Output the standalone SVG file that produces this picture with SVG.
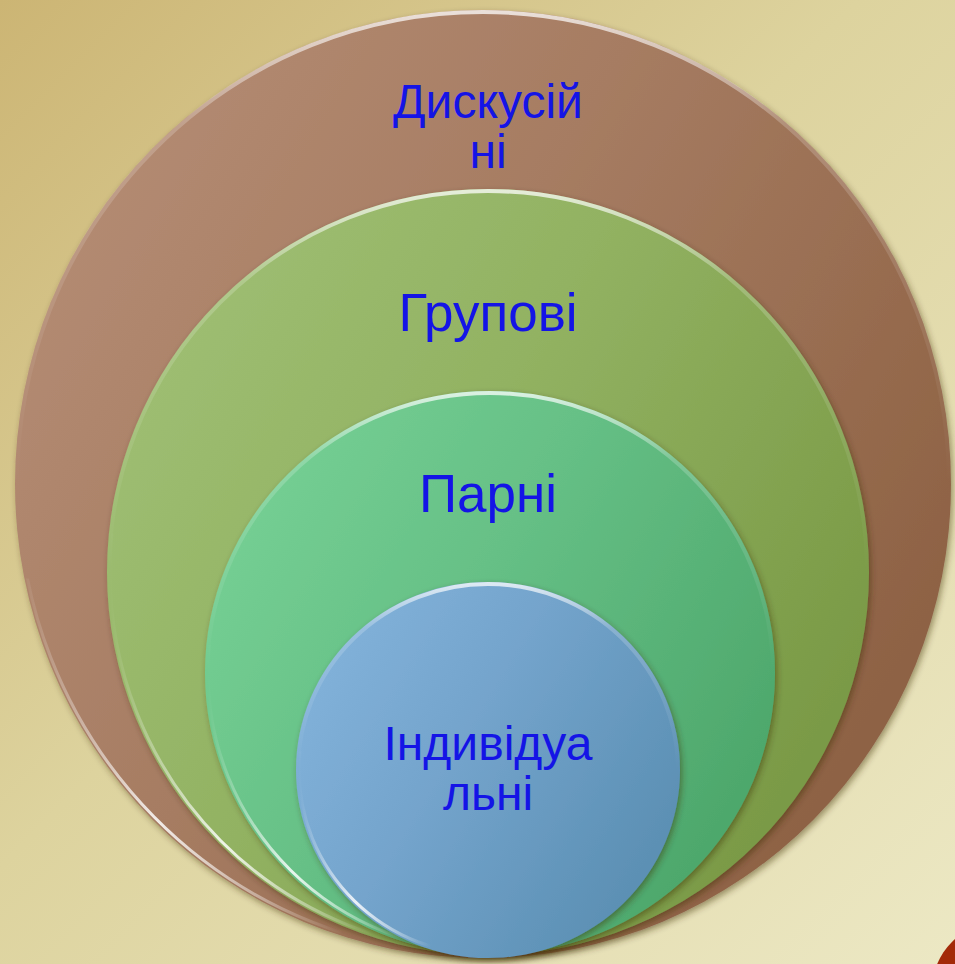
<svg xmlns="http://www.w3.org/2000/svg" width="955" height="964" viewBox="0 0 955 964">
<defs>
<linearGradient id="bg" x1="0" y1="0" x2="1" y2="1">
<stop offset="0" stop-color="#ccb574"/>
<stop offset="0.45" stop-color="#ddd39e"/>
<stop offset="1" stop-color="#ece8c4"/>
</linearGradient>
<linearGradient id="gBrown" x1="0" y1="0" x2="1" y2="0.6">
<stop offset="0" stop-color="#b89078"/>
<stop offset="0.5" stop-color="#a67c62"/>
<stop offset="1" stop-color="#8e6244"/>
</linearGradient>
<linearGradient id="gGreen" x1="0" y1="0" x2="1" y2="0.6">
<stop offset="0" stop-color="#a2c278"/>
<stop offset="0.5" stop-color="#92b262"/>
<stop offset="1" stop-color="#7a9a46"/>
</linearGradient>
<linearGradient id="gTeal" x1="0" y1="0" x2="1" y2="0.6">
<stop offset="0" stop-color="#7ad498"/>
<stop offset="0.5" stop-color="#66c086"/>
<stop offset="1" stop-color="#4ea86c"/>
</linearGradient>
<linearGradient id="gBlue" x1="0" y1="0" x2="1" y2="0.6">
<stop offset="0" stop-color="#86b6de"/>
<stop offset="0.5" stop-color="#74a4cc"/>
<stop offset="1" stop-color="#5c90b4"/>
</linearGradient>
<linearGradient id="hl" x1="0" y1="0" x2="0" y2="1">
<stop offset="0" stop-color="#ffffff" stop-opacity="0.75"/>
<stop offset="0.12" stop-color="#ffffff" stop-opacity="0.2"/>
<stop offset="0.5" stop-color="#ffffff" stop-opacity="0"/>
<stop offset="1" stop-color="#ffffff" stop-opacity="0"/>
</linearGradient>
<linearGradient id="hl2" x1="0" y1="0" x2="1" y2="0">
<stop offset="0" stop-color="#ffffff" stop-opacity="0"/>
<stop offset="0.15" stop-color="#ffffff" stop-opacity="0.85"/>
<stop offset="0.35" stop-color="#ffffff" stop-opacity="0"/>
<stop offset="1" stop-color="#ffffff" stop-opacity="0"/>
</linearGradient>
<filter id="sh" x="-10%" y="-10%" width="120%" height="120%">
<feDropShadow dx="2" dy="3" stdDeviation="3" flood-color="#3a2a10" flood-opacity="0.45"/>
</filter>
</defs>
<style>
.lbl{font-family:"Liberation Sans",Arial,sans-serif;font-size:48px;fill:#1414e6;text-anchor:middle}
.big{font-size:53px}
.rim{fill:none;stroke:url(#hl);stroke-width:4}
.rim2{fill:none;stroke:url(#hl2);stroke-width:3}
</style>
<rect width="955" height="964" fill="url(#bg)"/>
<circle cx="1000" cy="990" r="68" fill="#a32a08"/>
<g id="discussion">
<ellipse cx="483" cy="484" rx="468" ry="474" fill="url(#gBrown)" filter="url(#sh)"/>
<ellipse cx="483" cy="484" rx="466" ry="472" class="rim"/>
<ellipse cx="483" cy="484" rx="465" ry="471" class="rim2" style="clip-path:inset(60% 0 0 0)"/>
<text class="lbl" x="488" y="118">Дискусій</text>
<text class="lbl" x="488" y="168">ні</text>
</g>
<g id="group">
<ellipse cx="488" cy="572" rx="381" ry="383" fill="url(#gGreen)" filter="url(#sh)"/>
<ellipse cx="488" cy="572" rx="379" ry="381" class="rim"/>
<ellipse cx="488" cy="572" rx="378" ry="380" class="rim2" style="clip-path:inset(45% 0 0 0)"/>
<text class="lbl big" x="488" y="331">Групові</text>
</g>
<g id="pair">
<ellipse cx="490" cy="673" rx="285" ry="282" fill="url(#gTeal)" filter="url(#sh)"/>
<ellipse cx="490" cy="673" rx="283" ry="280" class="rim"/>
<ellipse cx="490" cy="673" rx="282" ry="279" class="rim2" style="clip-path:inset(45% 0 0 0)"/>
<text class="lbl big" x="488" y="512">Парні</text>
</g>
<g id="individual">
<ellipse cx="488" cy="770" rx="192" ry="188" fill="url(#gBlue)" filter="url(#sh)"/>
<ellipse cx="488" cy="770" rx="190" ry="186" class="rim"/>
<ellipse cx="488" cy="770" rx="189" ry="185" class="rim2" style="clip-path:inset(45% 0 0 0)"/>
<text class="lbl" x="488" y="760">Індивідуа</text>
<text class="lbl" x="488" y="810">льні</text>
</g>
<g id="connectors"/>
</svg>
